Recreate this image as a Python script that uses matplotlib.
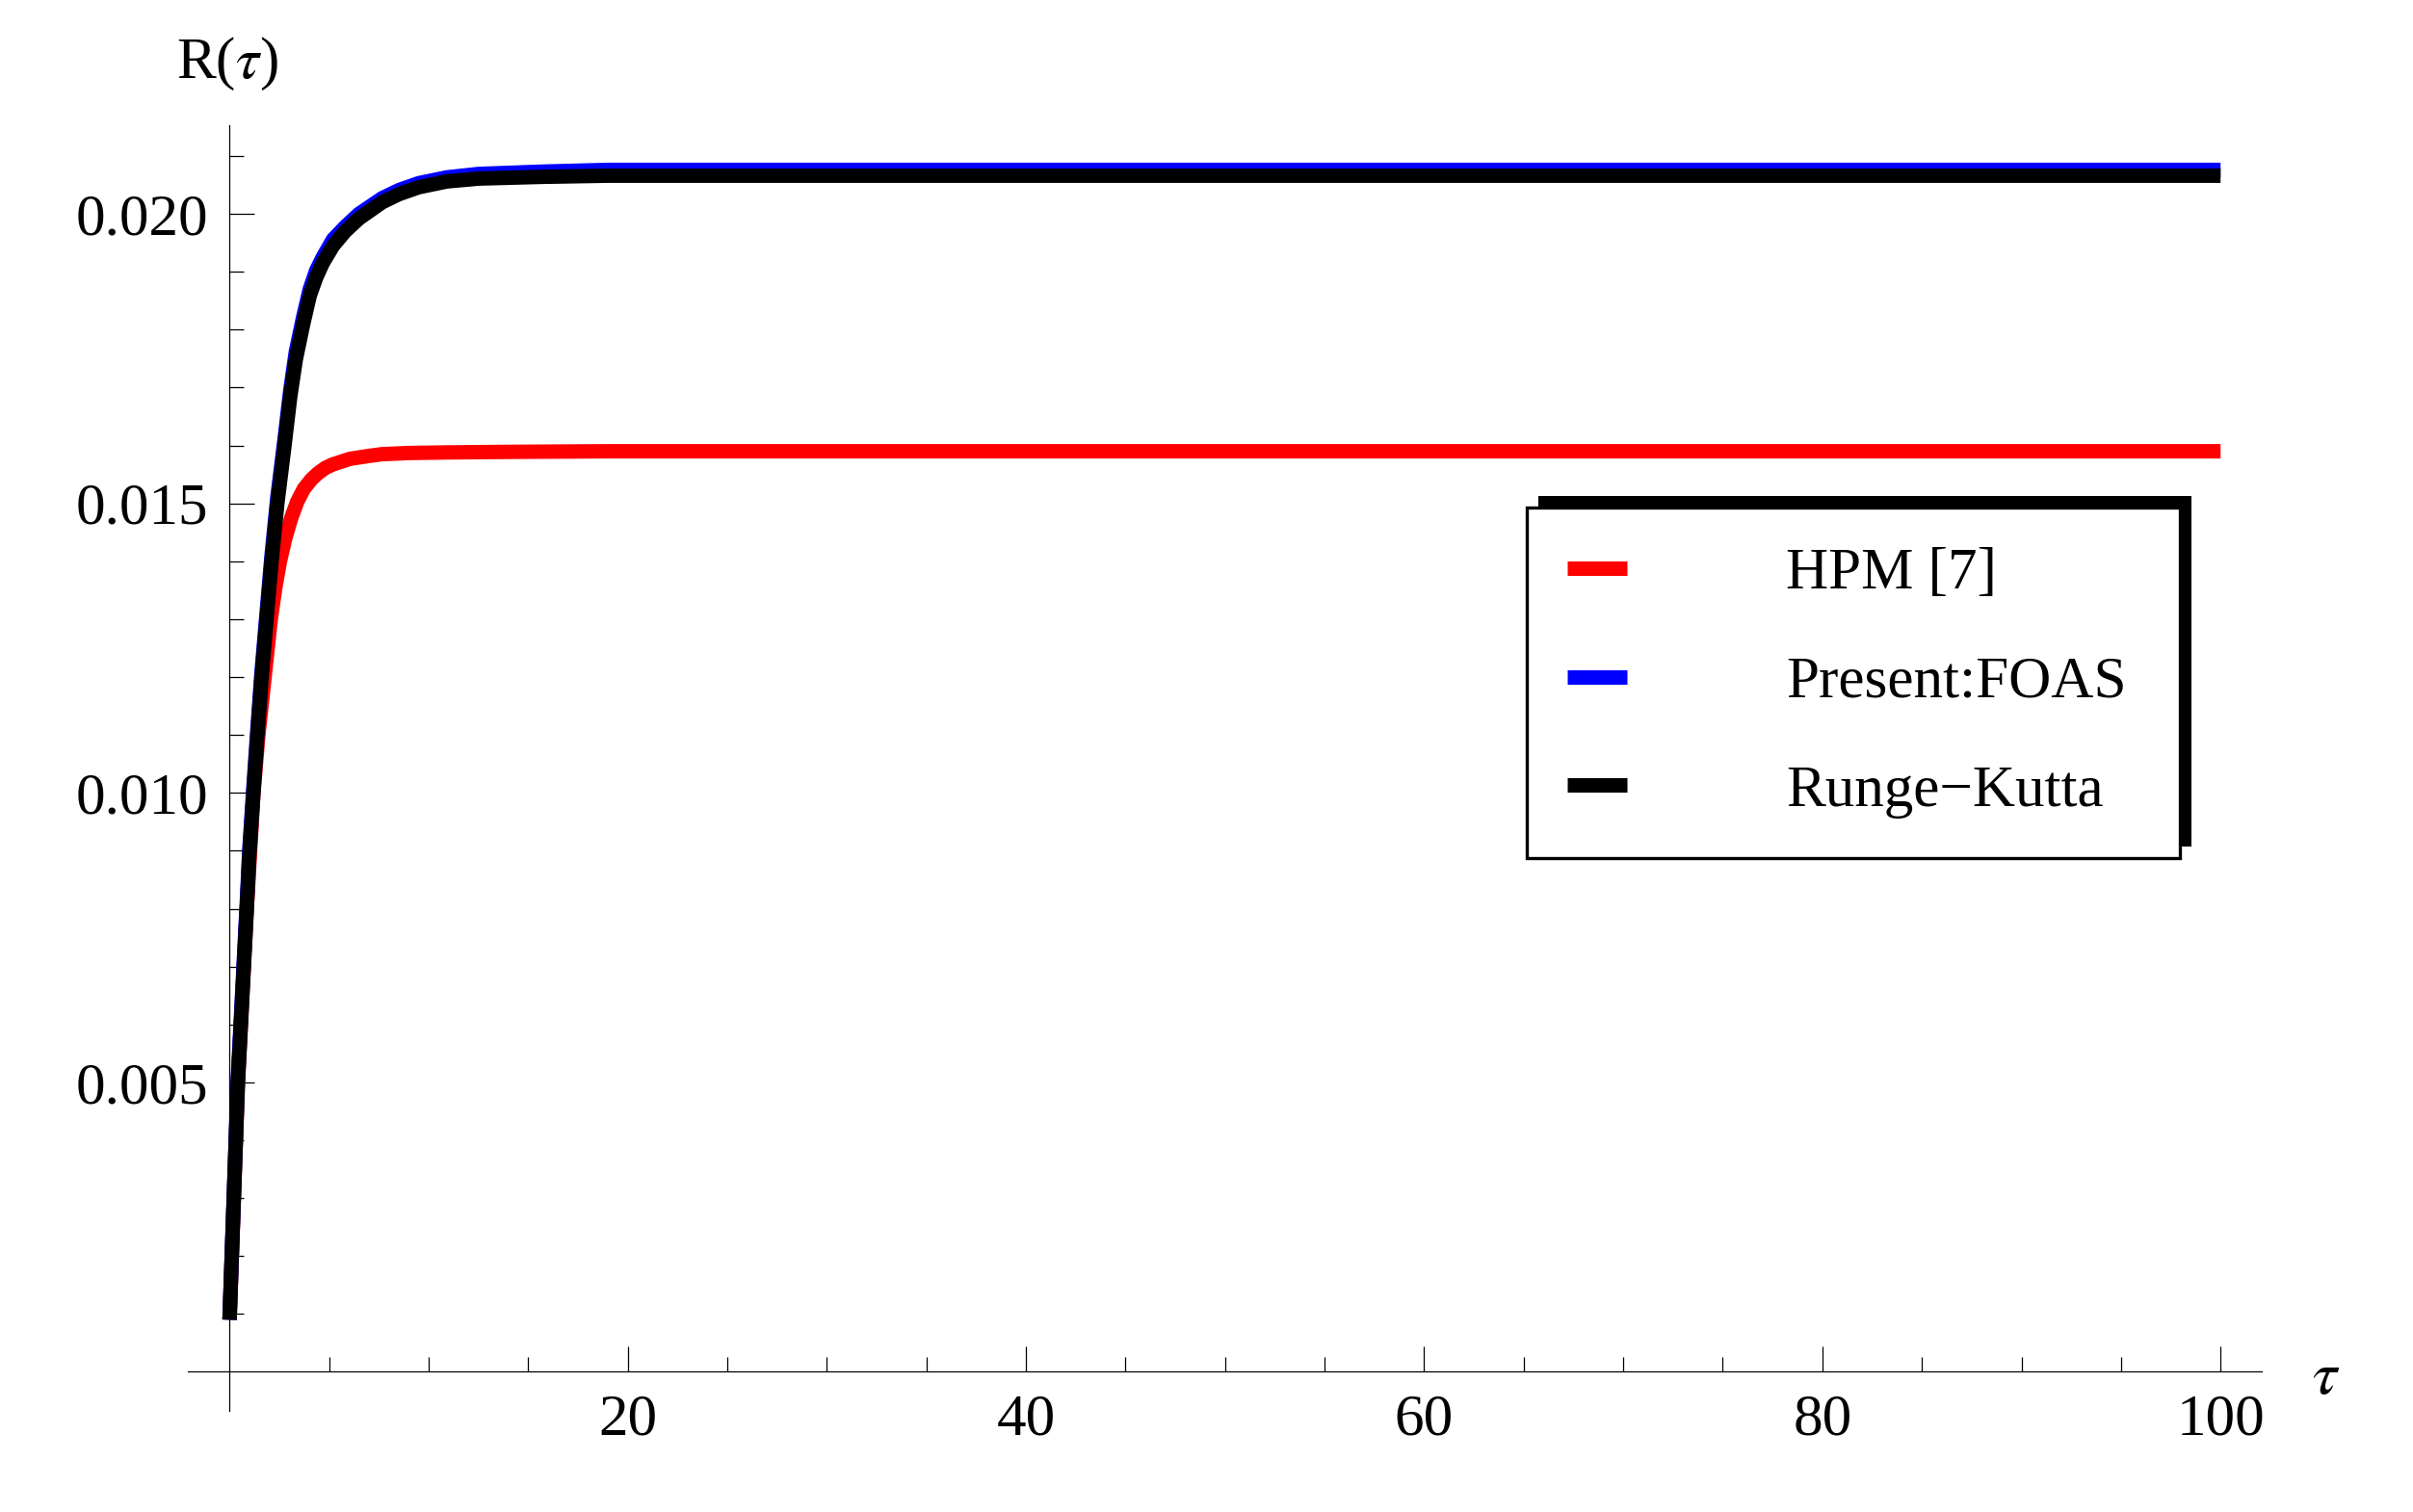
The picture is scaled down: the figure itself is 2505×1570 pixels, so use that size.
import numpy as np
import matplotlib
matplotlib.use('Agg')
from matplotlib import pyplot as plt
from matplotlib.patches import Rectangle

# === DATA ===
tau_hpm = [0, 0.42, 0.866, 1.20, 1.45, 1.76, 2.07, 2.30, 2.53, 2.80, 3.10, 3.40,
           3.73, 4.10, 4.44, 4.80, 5.16, 6.05, 7.00, 7.66, 9.0, 10.9, 14, 19,
           40, 70, 100]
r_hpm = [0.0009, 0.0050, 0.0080, 0.0100, 0.0110, 0.0120, 0.0130, 0.01355, 0.0140,
         0.01440, 0.01475, 0.01503, 0.01525, 0.01541, 0.01552, 0.01561, 0.01567,
         0.01577, 0.01582, 0.01585, 0.01587, 0.01588, 0.01589, 0.0159,
         0.0159, 0.0159, 0.0159]

tau_foas = [0, 0.42, 0.866, 0.99, 1.20, 1.38, 1.61, 1.86, 2.11, 2.40, 2.76, 3.05,
            3.33, 3.70, 4.03, 4.35, 4.68, 5.20, 5.81, 6.50, 7.66, 8.50, 9.50,
            10.9, 12.5, 15.7, 19, 40, 70, 100]
r_foas = [0.0009, 0.0051, 0.0081, 0.0090, 0.0101, 0.0110, 0.0121, 0.0131, 0.0141,
          0.0151, 0.0161, 0.01695, 0.01762, 0.01822, 0.01870, 0.01902, 0.01925,
          0.01956, 0.01978, 0.02000, 0.02027, 0.02041, 0.02053, 0.02063,
          0.02069, 0.02073, 0.02076, 0.02076, 0.02076, 0.02076]

tau_rk = [0, 0.42, 0.866, 0.99, 1.20, 1.38, 1.61, 1.86, 2.11, 2.40, 2.76, 3.05,
          3.33, 3.70, 4.03, 4.35, 4.68, 5.20, 5.81, 6.50, 7.66, 8.50, 9.50,
          10.9, 12.5, 15.7, 19, 40, 70, 100]
r_rk = [0.0009, 0.0050, 0.0080, 0.0089, 0.0100, 0.0109, 0.0120, 0.0130, 0.0140,
        0.0150, 0.0160, 0.01685, 0.01749, 0.01810, 0.01859, 0.01890, 0.01915,
        0.01945, 0.0197, 0.01992, 0.0202, 0.02034, 0.02046, 0.02056,
        0.02061, 0.02064, 0.02066, 0.02066, 0.02066, 0.02066]

series_labels = ['HPM [7]', 'Present:FOAS', 'Runge\u2212Kutta']
series_colors = ['#ff0000', '#0000ff', '#000000']

x_major = [20, 40, 60, 80, 100]
y_major = [0.005, 0.010, 0.015, 0.020]
y_major_labels = ['0.005', '0.010', '0.015', '0.020']

# === FIGURE ===
W, H = 2505, 1570
plt.rcParams['font.family'] = ['Liberation Serif', 'DejaVu Serif']
plt.rcParams['mathtext.fontset'] = 'stix'

fig = plt.figure(figsize=(W / 100, H / 100), dpi=100)
# axes box spans exactly the drawn axis lines (pixel positions from the reference)
ax = fig.add_axes([195 / W, 1 - 1465 / H, (2348 - 195) / W, (1465 - 130) / H])
ax.set_xlim(-2.095, 102.07)
ax.set_ylim(-0.000674, 0.021532)

lw = 10.8
for t, r, lab, col in zip([tau_hpm, tau_foas, tau_rk], [r_hpm, r_foas, r_rk],
                          series_labels, series_colors):
    ax.plot(t, r, color=col, lw=lw, label=lab, solid_capstyle='butt',
            solid_joinstyle='round')

# Mathematica style axes crossing at the origin
for side in ['top', 'right']:
    ax.spines[side].set_visible(False)
ax.spines['left'].set_position(('data', 0))
ax.spines['bottom'].set_position(('data', 0))
for side in ['left', 'bottom']:
    ax.spines[side].set_linewidth(0.9)

ax.set_xticks(x_major)
ax.set_xticks([v for v in range(5, 100, 5) if v % 20 != 0], minor=True)
ax.set_yticks(y_major, labels=y_major_labels)
ax.set_yticks([k / 1000 for k in range(1, 22) if k % 5 != 0], minor=True)

ax.tick_params(which='both', direction='in', width=0.9, labelsize=44)
ax.tick_params(which='major', length=18.7, pad=16)
ax.tick_params(which='minor', length=10.8)

# axis labels
fig.text(183 / W, 1 - 81 / H, r'R($\tau$)', fontsize=44, ha='left', va='baseline')
fig.text(2400 / W, 1 - 1432 / H, r'$\tau$', fontsize=46, ha='left', va='center')

# legend with offset black shadow
leg = ax.legend(loc='upper left',
                bbox_to_anchor=(1585 / W, 1 - 892 / H, (2263 - 1585) / W, (892 - 527) / H),
                bbox_transform=fig.transFigure, mode='expand', borderaxespad=0,
                fontsize=44, handlelength=1.03, handletextpad=2.69,
                labelspacing=0.93, borderpad=0.68, fancybox=False,
                framealpha=1, edgecolor='black')
leg.get_frame().set_linewidth(2.4)
leg.set_zorder(6)

fig.canvas.draw()
bb = leg.get_frame().get_window_extent()
x0, y0 = fig.transFigure.inverted().transform((bb.x0 + 12, bb.y0 + 12))
x1, y1 = fig.transFigure.inverted().transform((bb.x1 + 12, bb.y1 + 12))
shadow = Rectangle((x0, y0), x1 - x0, y1 - y0, transform=fig.transFigure,
                   facecolor='black', edgecolor='none', zorder=5.5, clip_on=False)
ax.add_artist(shadow)

fig.savefig('out.png', dpi=100)
